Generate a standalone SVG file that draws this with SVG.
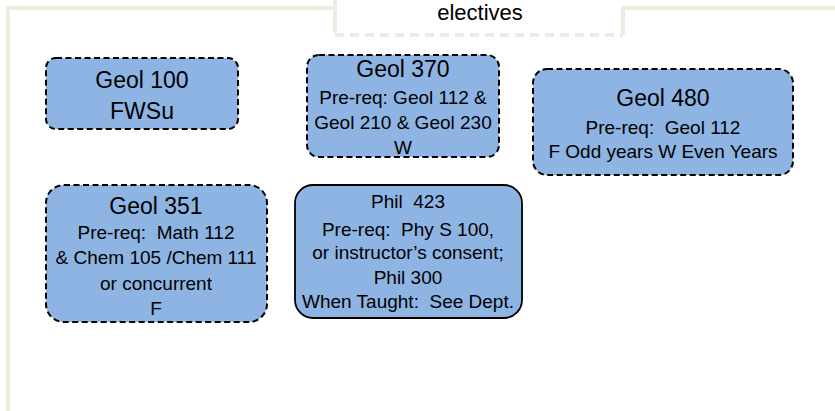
<svg xmlns="http://www.w3.org/2000/svg" width="835" height="411" viewBox="0 0 835 411">
<style>
.frame{fill:none;stroke:#EEEBE1;stroke-width:4}
.fd{fill:none;stroke:#EEEBE1;stroke-width:4;stroke-dasharray:9,6}
.n{fill:#8EB4E3;stroke:#000;stroke-width:2;stroke-dasharray:6,3.5}
.ns{fill:#8EB4E3;stroke:#000;stroke-width:1.8}
text{font-family:"Liberation Sans",Arial,sans-serif;fill:#000;text-anchor:middle;white-space:pre}
.h{font-size:23px}
.s{font-size:19px}
</style>
<rect width="835" height="411" fill="#fff"/>
<g id="frame">
<polyline class="frame" points="8,411 8,8 335,8"/>
<line class="frame" x1="335" y1="0" x2="335" y2="24"/>
<line class="fd" x1="335" y1="24" x2="335" y2="35"/>
<line class="fd" x1="335" y1="35" x2="623" y2="35"/>
<polyline class="frame" points="623,35 623,8 835,8"/>
<text x="480" y="20" style="font-size:22px">electives</text>
</g>
<g id="connectors"></g>
<g id="geol100">
<rect class="n" x="46" y="58" width="192" height="71" rx="10"/>
<text class="h" x="142" y="88">Geol 100</text>
<text class="h" x="142" y="119">FWSu</text>
</g>
<g id="geol370">
<rect class="n" x="307" y="55" width="192" height="102" rx="12"/>
<text class="h" x="403" y="77">Geol 370</text>
<text class="s" x="403" y="104">Pre-req: Geol 112 &amp;</text>
<text class="s" x="403" y="129">Geol 210 &amp; Geol 230</text>
<text class="s" x="403" y="154">W</text>
</g>
<g id="geol480">
<rect class="n" x="533" y="69" width="260" height="106" rx="14"/>
<text class="h" x="663" y="106">Geol 480</text>
<text class="s" x="663" y="134">Pre-req:  Geol 112</text>
<text class="s" x="663" y="158">F Odd years W Even Years</text>
</g>
<g id="geol351">
<rect class="n" x="46" y="185" width="221" height="137" rx="18"/>
<text class="h" x="156" y="214">Geol 351</text>
<text class="s" x="156" y="239">Pre-req:  Math 112</text>
<text class="s" x="156" y="264">&amp; Chem 105 /Chem 111</text>
<text class="s" x="156" y="290">or concurrent</text>
<text class="s" x="156" y="315">F</text>
</g>
<g id="phil423">
<rect class="ns" x="295" y="185" width="227" height="133" rx="18"/>
<text class="s" x="408" y="208">Phil  423</text>
<text class="s" x="408" y="236">Pre-req:  Phy S 100,</text>
<text class="s" x="408" y="259">or instructor’s consent;</text>
<text class="s" x="408" y="284">Phil 300</text>
<text class="s" x="408" y="308">When Taught:  See Dept.</text>
</g>
</svg>
